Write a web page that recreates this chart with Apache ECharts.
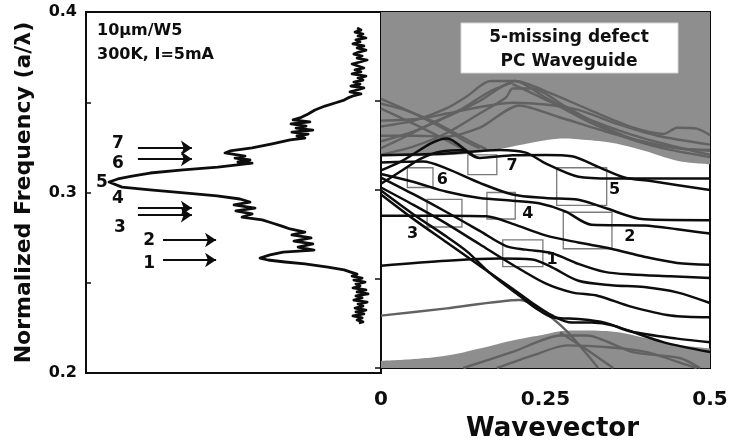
<!DOCTYPE html>
<html>
<head>
<meta charset="utf-8">
<script src="https://cdn.jsdelivr.net/npm/echarts@6/dist/echarts.min.js"></script>
<style>
  html, body { margin: 0; padding: 0; background: #fff; }
  #chart { width: 731px; height: 447px; }
</style>
</head>
<body>
<div id="chart"></div>
<script>
// ---- axis ticks ----
const freqLabels = [0.2, 0.3, 0.4];
const waveLabels = [0, 0.25, 0.5];

// ---- measured emission spectrum: [intensity (a.u.), normalized frequency] ----
const spectrum = [
  [0.919,0.3911],[0.932,0.3900],[0.912,0.3889],[0.939,0.3878],[0.922,0.3867],[0.949,0.3856],
  [0.915,0.3845],[0.929,0.3834],[0.905,0.3823],[0.942,0.3812],[0.919,0.3801],[0.949,0.3789],
  [0.925,0.3778],[0.908,0.3767],[0.936,0.3756],[0.919,0.3745],[0.953,0.3734],[0.929,0.3723],
  [0.902,0.3712],[0.922,0.3701],[0.942,0.3690],[0.912,0.3679],[0.932,0.3668],[0.902,0.3657],
  [0.949,0.3645],[0.922,0.3634],[0.939,0.3623],[0.908,0.3612],[0.929,0.3601],[0.898,0.3590],
  [0.942,0.3579],[0.919,0.3568],[0.895,0.3557],[0.932,0.3546],[0.905,0.3535],[0.888,0.3524],
  [0.875,0.3512],[0.844,0.3496],[0.810,0.3479],[0.776,0.3457],[0.753,0.3435],
  [0.725,0.3413],[0.702,0.3402],[0.759,0.3391],[0.695,0.3380],[0.746,0.3368],[0.712,0.3357],
  [0.769,0.3346],[0.698,0.3335],[0.753,0.3324],[0.715,0.3313],[0.742,0.3302],[0.692,0.3291],
  [0.631,0.3269],[0.563,0.3247],[0.488,0.3230],[0.471,0.3219],[0.539,0.3202],[0.505,0.3191],
  [0.556,0.3180],[0.515,0.3169],[0.563,0.3163],[0.447,0.3141],[0.329,0.3125],[0.217,0.3108],
  [0.156,0.3091],[0.108,0.3075],[0.078,0.3058],[0.081,0.3047],[0.122,0.3030],[0.217,0.3014],
  [0.342,0.2997],[0.444,0.2981],[0.522,0.2964],[0.556,0.2947],[0.502,0.2931],[0.573,0.2914],
  [0.508,0.2898],[0.563,0.2881],[0.529,0.2864],[0.597,0.2848],[0.631,0.2831],[0.664,0.2814],
  [0.692,0.2798],[0.742,0.2781],[0.698,0.2765],[0.763,0.2748],[0.705,0.2731],[0.769,0.2715],
  [0.719,0.2698],[0.773,0.2681],[0.668,0.2670],[0.624,0.2654],[0.590,0.2637],[0.617,0.2626],
  [0.675,0.2615],[0.742,0.2604],[0.820,0.2587],[0.875,0.2571],
  [0.895,0.2560],[0.919,0.2548],[0.902,0.2537],[0.936,0.2526],[0.908,0.2515],[0.946,0.2504],
  [0.915,0.2493],[0.929,0.2482],[0.905,0.2471],[0.949,0.2460],[0.919,0.2449],[0.956,0.2438],
  [0.915,0.2427],[0.936,0.2416],[0.908,0.2404],[0.953,0.2393],[0.922,0.2382],[0.939,0.2371],
  [0.912,0.2360],[0.949,0.2349],[0.915,0.2338],[0.942,0.2327],[0.905,0.2316],[0.936,0.2305],
  [0.919,0.2294],[0.939,0.2283],[0.925,0.2277]
];

// ---- arrows marking the observed peaks ----
const arrowFreqs  = [0.3247, 0.3186, 0.2914, 0.2875, 0.2737, 0.2626];
const arrowStarts = [0.176, 0.176, 0.176, 0.176, 0.261, 0.261];
const arrowEnds   = [0.359, 0.359, 0.359, 0.359, 0.441, 0.441];
const peakNames   = ['7', '6', '5', '4', '3', '2', '1'];
const peakLabelAt = [[0.108,0.3269],[0.108,0.3163],[0.054,0.3053],[0.108,0.2964],
                     [0.115,0.2803],[0.214,0.2731],[0.214,0.2604]];

// ---- photonic crystal continuum edges: [wavevector, frequency] ----
const upperEdge = [[0,0.319],[0.05,0.319],[0.1,0.3195],[0.15,0.321],[0.2,0.3245],[0.25,0.328],
                   [0.28,0.329],[0.3,0.3285],[0.35,0.3265],[0.4,0.322],[0.45,0.3165],[0.5,0.3145]];
const lowerEdge = [[0,0.204],[0.05,0.205],[0.1,0.207],[0.15,0.211],[0.2,0.2155],[0.25,0.219],
                   [0.27,0.2205],[0.3,0.221],[0.35,0.2205],[0.4,0.217],[0.45,0.213],[0.5,0.211]];

// ---- cladding (continuum) bands ----
const cladA = [[0,0.3274],[0.05,0.333],[0.1,0.341],[0.15,0.35],[0.204,0.3612],[0.25,0.352],[0.302,0.3418],[0.383,0.3308],[0.44,0.325],[0.5,0.3197]];
const cladB = [[0,0.3197],[0.05,0.3245],[0.1,0.332],[0.15,0.343],[0.19,0.352],[0.2,0.357],[0.23,0.357],[0.28,0.347],[0.33,0.337],[0.38,0.329],[0.42,0.3255],[0.46,0.323],[0.5,0.3225]];
const cladC = [[0,0.3357],[0.05,0.339],[0.1,0.346],[0.13,0.3525],[0.166,0.3612],[0.204,0.3612],[0.26,0.354],[0.32,0.3445],[0.38,0.3355],[0.43,0.3315],[0.45,0.335],[0.48,0.3345],[0.5,0.3308]];
const cladD = [[0,0.3512],[0.05,0.343],[0.1,0.3335],[0.13,0.327],[0.15,0.3235]];
const cladE = [[0,0.3457],[0.064,0.3346],[0.12,0.324],[0.14,0.3205]];
const cladF = [[0,0.339],[0.06,0.34],[0.1,0.343],[0.2,0.349],[0.25,0.348],[0.3,0.345],[0.36,0.337],[0.42,0.3305],[0.5,0.3255]];
const cladG = [[0,0.3305],[0.05,0.3305],[0.1,0.33],[0.15,0.335],[0.21,0.3475],[0.27,0.341],[0.34,0.333],[0.4,0.327],[0.45,0.3235],[0.5,0.322]];
const cladH = [[0,0.2294],[0.1,0.2335],[0.211,0.2382],[0.24,0.2335],[0.283,0.2205],[0.313,0.2077],[0.33,0.2]];
const cladI = [[0.125,0.2],[0.2,0.209],[0.272,0.2183],[0.313,0.2183],[0.383,0.2089],[0.454,0.2056],[0.485,0.2]];
const cladJ = [[0.176,0.2],[0.23,0.207],[0.283,0.2127],[0.35,0.2115],[0.404,0.2089],[0.465,0.2017],[0.48,0.2]];
const cladK = [[0.272,0.22],[0.31,0.211],[0.353,0.2]];
const cladL = [[0,0.3235],[0.04,0.3305],[0.08,0.338],[0.12,0.345],[0.166,0.3555],[0.2,0.3605]];
const cladM = [[0,0.3485],[0.04,0.3445],[0.08,0.3385],[0.11,0.3325],[0.14,0.3265],[0.16,0.323]];
const cladN = [[0.2,0.3595],[0.26,0.349],[0.32,0.3375],[0.38,0.3285],[0.44,0.3225],[0.5,0.3185]];

// ---- defect waveguide modes ----
const modeA = [[0,0.3195],[0.05,0.32],[0.1,0.3205],[0.18,0.3225],[0.22,0.321],[0.25,0.315],[0.3,0.3075],[0.35,0.3065],[0.5,0.3065]];
const modeB = [[0,0.311],[0.03,0.316],[0.1,0.329],[0.15,0.318],[0.2,0.3195],[0.25,0.3197],[0.29,0.319],[0.33,0.313],[0.37,0.307],[0.41,0.305],[0.5,0.3]];
const modeC = [[0,0.3155],[0.064,0.316],[0.1,0.312],[0.15,0.304],[0.2,0.2975],[0.25,0.2955],[0.3,0.2945],[0.34,0.29],[0.4,0.2835],[0.5,0.283]];
const modeD = [[0,0.309],[0.05,0.3045],[0.1,0.299],[0.15,0.2955],[0.2,0.294],[0.24,0.2925],[0.28,0.288],[0.32,0.2805],[0.4,0.28],[0.45,0.278],[0.5,0.2755]];
const modeE = [[0,0.2855],[0.1,0.2855],[0.16,0.2852],[0.2,0.281],[0.25,0.2745],[0.3,0.2705],[0.35,0.267],[0.4,0.2625],[0.45,0.259],[0.5,0.258]];
const modeF = [[0,0.2575],[0.1,0.2603],[0.18,0.2615],[0.23,0.261],[0.26,0.2565],[0.3,0.249],[0.35,0.2465],[0.4,0.2455],[0.45,0.2425],[0.5,0.2365]];
const modeG = [[0,0.307],[0.05,0.2975],[0.1,0.2875],[0.15,0.277],[0.19,0.2685],[0.22,0.2665],[0.26,0.2645],[0.3,0.2585],[0.34,0.254],[0.38,0.2525],[0.44,0.2515],[0.5,0.2505]];
const modeH = [[0,0.3014],[0.05,0.2915],[0.1,0.281],[0.15,0.2695],[0.2,0.258],[0.25,0.2475],[0.29,0.2425],[0.33,0.2405],[0.38,0.2345],[0.44,0.2295],[0.5,0.2285]];
const modeI = [[0,0.2997],[0.049,0.2864],[0.1,0.2737],[0.131,0.2654],[0.166,0.2532],[0.211,0.2404],[0.237,0.2332],[0.26,0.2285],[0.3,0.2275],[0.34,0.2255],[0.38,0.2205],[0.45,0.2165],[0.5,0.2145]];
const modeJ = [[0,0.2975],[0.05,0.2835],[0.1,0.2705],[0.15,0.2575],[0.2,0.2445],[0.23,0.2365],[0.26,0.2295],[0.29,0.2255],[0.32,0.2255],[0.353,0.2238],[0.43,0.2144],[0.5,0.209]];
const modeK = [[0,0.3035],[0.03,0.3105],[0.06,0.3175],[0.09,0.3215],[0.13,0.3225]];

// ---- numbered anti-crossing regions: [k0, k1, fLow, fHigh] and label positions ----
const boxNames = ['1', '2', '3', '4', '5', '6', '7'];
const boxRanges = [[0.185,0.246,0.257,0.272],[0.277,0.351,0.267,0.2875],[0.07,0.123,0.2792,0.2947],
                   [0.161,0.204,0.2837,0.2986],[0.267,0.343,0.2914,0.3125],[0.04,0.079,0.3014,0.3125],
                   [0.132,0.176,0.3086,0.3197]];
const boxLabelAt = [[0.26,0.261],[0.378,0.2737],[0.048,0.2753],[0.223,0.2864],[0.355,0.3003],
                    [0.093,0.3058],[0.199,0.3136]];

const FONT = 'DejaVu Sans';
const INK = '#0d0d0d';
const SHADE = '#8e8e8e';
const CLAD = '#626262';

const cladBands = [cladA, cladB, cladC, cladD, cladE, cladF, cladG, cladH, cladI, cladJ, cladK, cladL, cladM, cladN];
const modeBands = [modeA, modeB, modeC, modeD, modeE, modeF, modeG, modeH, modeI, modeJ, modeK];

const textLabel = size => ({
  show: true, position: 'inside', formatter: p => p.name,
  fontFamily: FONT, fontWeight: 'bold', fontSize: size, color: INK, opacity: 1
});

const series = [];

// emission spectrum with peak arrows
series.push({
  type: 'line', xAxisIndex: 0, yAxisIndex: 0, data: spectrum,
  showSymbol: false, smooth: false, z: 5,
  lineStyle: { color: INK, width: 2.8, join: 'round' },
  markLine: {
    silent: true, symbol: ['none', 'arrow'], symbolSize: 11,
    label: { show: false },
    lineStyle: { color: INK, width: 2.2, type: 'solid' },
    data: arrowFreqs.map((f, i) => [{ coord: [arrowStarts[i], f] }, { coord: [arrowEnds[i], f] }])
  }
});
series.push({
  type: 'scatter', xAxisIndex: 0, yAxisIndex: 0, symbolSize: 1, z: 6,
  itemStyle: { color: 'rgba(0,0,0,0)', opacity: 1 },
  label: textLabel(17),
  data: peakNames.map((n, i) => ({ name: n, value: peakLabelAt[i] }))
});

// continuum shading above and below the guided region
series.push({
  type: 'line', xAxisIndex: 1, yAxisIndex: 1, data: upperEdge, smooth: 0.4,
  showSymbol: false, z: 1, lineStyle: { width: 0 },
  areaStyle: { color: SHADE, opacity: 1, origin: 'end' }
});
series.push({
  type: 'line', xAxisIndex: 1, yAxisIndex: 1, data: lowerEdge, smooth: 0.4,
  showSymbol: false, z: 1, lineStyle: { width: 0 },
  areaStyle: { color: SHADE, opacity: 1, origin: 'start' }
});

cladBands.forEach(b => series.push({
  type: 'line', xAxisIndex: 1, yAxisIndex: 1, data: b, smooth: 0.25,
  showSymbol: false, z: 2, lineStyle: { color: CLAD, width: 2.4 }
}));

// anti-crossing boxes
series.push({
  type: 'line', xAxisIndex: 1, yAxisIndex: 1, data: [], z: 3,
  markArea: {
    silent: true,
    itemStyle: { color: 'rgba(0,0,0,0)', borderColor: '#7a7a7a', borderWidth: 1.3 },
    label: { show: false },
    data: boxRanges.map(r => [{ coord: [r[0], r[3]] }, { coord: [r[1], r[2]] }])
  }
});

modeBands.forEach(b => series.push({
  type: 'line', xAxisIndex: 1, yAxisIndex: 1, data: b, smooth: 0.3,
  showSymbol: false, z: 4, lineStyle: { color: INK, width: 2.5 }
}));

series.push({
  type: 'scatter', xAxisIndex: 1, yAxisIndex: 1, symbolSize: 1, z: 6,
  itemStyle: { color: 'rgba(0,0,0,0)', opacity: 1 },
  label: textLabel(16),
  data: boxNames.map((n, i) => ({ name: n, value: boxLabelAt[i] }))
});

const isLabelled = (v, list) => list.some(t => Math.abs(t - v) < 1e-9);

const option = {
  animation: false,
  backgroundColor: '#fff',
  grid: [
    { left: 86, top: 12, width: 295, height: 361, show: true, borderColor: INK, borderWidth: 2, backgroundColor: 'transparent' },
    { left: 381, top: 12, width: 329, height: 361, show: true, borderColor: INK, borderWidth: 2, backgroundColor: 'transparent' }
  ],
  xAxis: [
    { gridIndex: 0, type: 'value', min: 0, max: 1, show: false },
    {
      gridIndex: 1, type: 'value', min: 0, max: 0.5, interval: 0.25,
      name: 'Wavevector', nameLocation: 'middle', nameGap: 48,
      nameTextStyle: { fontFamily: FONT, fontWeight: 'bold', fontSize: 26, color: INK, padding: [0, 0, 0, 14] },
      axisLine: { show: true, lineStyle: { color: INK, width: 2 } },
      axisTick: { show: true, inside: true, length: 8, lineStyle: { color: INK, width: 1.5 } },
      axisLabel: { fontFamily: FONT, fontWeight: 'bold', fontSize: 20, color: INK, margin: 22,
                   formatter: v => isLabelled(v, waveLabels) ? String(v) : '' },
      splitLine: { show: false }
    }
  ],
  yAxis: [
    {
      gridIndex: 0, type: 'value', min: 0.2, max: 0.4, interval: 0.05,
      name: 'Normalized Frequency (a/\u03bb)', nameLocation: 'middle', nameGap: 51,
      nameTextStyle: { fontFamily: FONT, fontWeight: 'bold', fontSize: 22, color: INK },
      axisLine: { show: true, lineStyle: { color: INK, width: 2 } },
      axisTick: { show: true, inside: true, length: 5, lineStyle: { color: INK, width: 1.5 } },
      axisLabel: { fontFamily: FONT, fontWeight: 'bold', fontSize: 16, color: INK, margin: 9,
                   formatter: v => isLabelled(v, freqLabels) ? v.toFixed(1) : '' },
      splitLine: { show: false }
    },
    {
      gridIndex: 1, type: 'value', min: 0.2, max: 0.4, interval: 0.05,
      axisLine: { show: true, lineStyle: { color: INK, width: 2 } },
      axisTick: { show: true, inside: false, length: 6, lineStyle: { color: INK, width: 1.5 } },
      axisLabel: { show: false },
      splitLine: { show: false }
    }
  ],
  graphic: [
    { type: 'text', x: 97, y: 23, z: 10,
      style: { text: '10\u03bcm/W5', font: 'bold 16px "DejaVu Sans"', fill: INK } },
    { type: 'text', x: 97, y: 47, z: 10,
      style: { text: '300K, I=5mA', font: 'bold 16px "DejaVu Sans"', fill: INK } },
    { type: 'rect', x: 461, y: 23, z: 10,
      shape: { x: 0, y: 0, width: 217, height: 50 },
      style: { fill: '#fff', stroke: '#d6d6d6', lineWidth: 1 } },
    { type: 'text', x: 569, y: 29, z: 11,
      style: { text: '5-missing defect', font: 'bold 17px "DejaVu Sans"', fill: '#111', align: 'center' } },
    { type: 'text', x: 569, y: 53, z: 11,
      style: { text: 'PC Waveguide', font: 'bold 17px "DejaVu Sans"', fill: '#111', align: 'center' } }
  ],
  series: series
};

const chart = echarts.init(document.getElementById('chart'), null, { renderer: 'canvas' });
chart.setOption(option);
</script>
</body>
</html>
